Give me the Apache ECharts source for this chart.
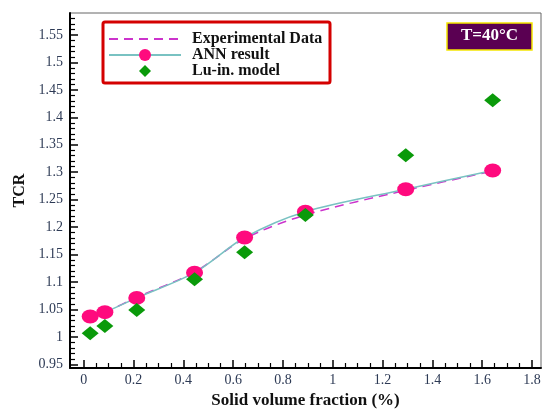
<!DOCTYPE html>
<html><head><meta charset="utf-8">
<script src="https://cdn.jsdelivr.net/npm/echarts@6/dist/echarts.min.js"></script>
<style>html,body{margin:0;padding:0;background:#fff}#c{width:544px;height:410px}</style>
</head><body><div id="c"></div>
<script>
var xValues = [0.026, 0.085, 0.213, 0.445, 0.646, 0.89, 1.293, 1.642];
var expData = [1.036, 1.045, 1.072, 1.118, 1.179, 1.222, 1.267, 1.302];
var annData = [1.037, 1.045, 1.071, 1.117, 1.181, 1.228, 1.269, 1.303];
var luinData = [1.0065, 1.020, 1.049, 1.105, 1.154, 1.222, 1.331, 1.431];
var xTicks = [0, 0.2, 0.4, 0.6, 0.8, 1, 1.2, 1.4, 1.6, 1.8];
var yTicks = [0.95, 1, 1.05, 1.1, 1.15, 1.2, 1.25, 1.3, 1.35, 1.4, 1.45, 1.5, 1.55];
var xMinor = [], yMinor = [];
for (var i = 0; i < xTicks.length - 1; i++) for (var k = 1; k < 4; k++) xMinor.push(+(xTicks[i] + k * 0.05).toFixed(3));
for (var j = 0; j < yTicks.length; j++) for (var m = 1; m < 5; m++) { var v = +(yTicks[j] + m * 0.01).toFixed(3); if (v < 1.59) yMinor.push(v); }

function pairs(ys){ return xValues.map(function(x,i){return [x, ys[i]];}); }
var serif = '"Liberation Serif","DejaVu Serif",serif';
var labelColor = '#2d3a55';
var X0 = -0.055, X1 = 1.836, Y0 = 0.9433, Y1 = 1.59;

var chart = echarts.init(document.getElementById('c'));
chart.setOption({
  animation: false,
  grid: {left: 70, right: 3, top: 13, bottom: 42, show: true, borderColor: '#666', borderWidth: 1,
    containLabel: false, outerBoundsMode: 'none'},
  xAxis: [{
    type: 'value', min: X0, max: X1,
    name: 'Solid volume fraction (%)', nameLocation: 'middle', nameGap: 24,
    nameTextStyle: {fontFamily: serif, fontWeight: 'bold', fontSize: 17, color: '#111'},
    axisLine: {onZero: false, lineStyle: {color: '#000', width: 2}},
    axisTick: {inside: true, length: 8, customValues: xTicks, lineStyle: {color: '#000', width: 1.5}},
    axisLabel: {customValues: xTicks, fontFamily: serif, fontSize: 14, color: labelColor, margin: 5,
      formatter: function(v){return String(+v.toFixed(2));}},
    splitLine: {show: false}
  }, {
    type: 'value', min: X0, max: X1, position: 'bottom',
    axisLine: {show: false, onZero: false},
    axisTick: {inside: true, length: 5, customValues: xMinor, lineStyle: {color: '#000', width: 1.2}},
    axisLabel: {show: false}, splitLine: {show: false}
  }],
  yAxis: [{
    type: 'value', min: Y0, max: Y1,
    name: 'TCR', nameLocation: 'middle', nameGap: 42, nameRotate: 90,
    nameTextStyle: {fontFamily: serif, fontWeight: 'bold', fontSize: 16, color: '#111'},
    axisLine: {show: true, onZero: false, lineStyle: {color: '#000', width: 2}},
    axisTick: {show: true, inside: true, length: 8, customValues: yTicks, lineStyle: {color: '#000', width: 1.5}},
    axisLabel: {customValues: yTicks, fontFamily: serif, fontSize: 14, color: labelColor, margin: 7,
      formatter: function(v){return String(+v.toFixed(2));}},
    splitLine: {show: false}
  }, {
    type: 'value', min: Y0, max: Y1, position: 'left',
    axisLine: {show: false, onZero: false},
    axisTick: {show: true, inside: true, length: 5, customValues: yMinor, lineStyle: {color: '#000', width: 1.2}},
    axisLabel: {show: false}, splitLine: {show: false}
  }],
  legend: {
    orient: 'vertical', left: 104, top: 31, padding: [0, 0, 0, 4], itemGap: 0,
    itemWidth: 72, itemHeight: 15,
    textStyle: {fontFamily: serif, fontWeight: 'bold', fontSize: 16, lineHeight: 15, color: '#111', padding: [0, 0, 0, 6]},
    data: [
      {name: 'Experimental Data', itemStyle: {opacity: 0}},
      {name: 'ANN result'},
      {name: 'Lu-in. model', lineStyle: {opacity: 0}}
    ]
  },
  graphic: [
    {type: 'rect', shape: {x: 103, y: 22, width: 227, height: 61, r: 2}, z: 5,
      style: {fill: 'transparent', stroke: '#d40000', lineWidth: 3}},
    {type: 'rect', shape: {x: 447, y: 23, width: 85, height: 27}, z: 5,
      style: {fill: '#5a0052', stroke: '#f5e600', lineWidth: 1.5}},
    {type: 'text', x: 489.5, y: 27, z: 6,
      style: {text: 'T=40°C', fill: '#fff', font: 'bold 17px ' + serif, textAlign: 'center', textVerticalAlign: 'top'}}
  ],
  series: [
    {name: 'Experimental Data', type: 'line', smooth: 0.3, data: pairs(expData), symbol: 'none',
      lineStyle: {color: '#cc33cc', width: 1.5, type: [9, 6]}, itemStyle: {color: '#cc33cc'}, z: 2},
    {name: 'ANN result', type: 'line', smooth: 0.3, data: pairs(annData), symbol: 'circle', symbolSize: [17, 14],
      showAllSymbol: true,
      lineStyle: {color: '#79c2c2', width: 1.5}, itemStyle: {color: '#ff0a7e'}, z: 3},
    {name: 'Lu-in. model', type: 'line', data: pairs(luinData), symbol: 'diamond', symbolSize: [17, 14],
      showAllSymbol: true,
      lineStyle: {opacity: 0, width: 0}, itemStyle: {color: '#0a9a0a'}, z: 4}
  ]
});
</script></body></html>
